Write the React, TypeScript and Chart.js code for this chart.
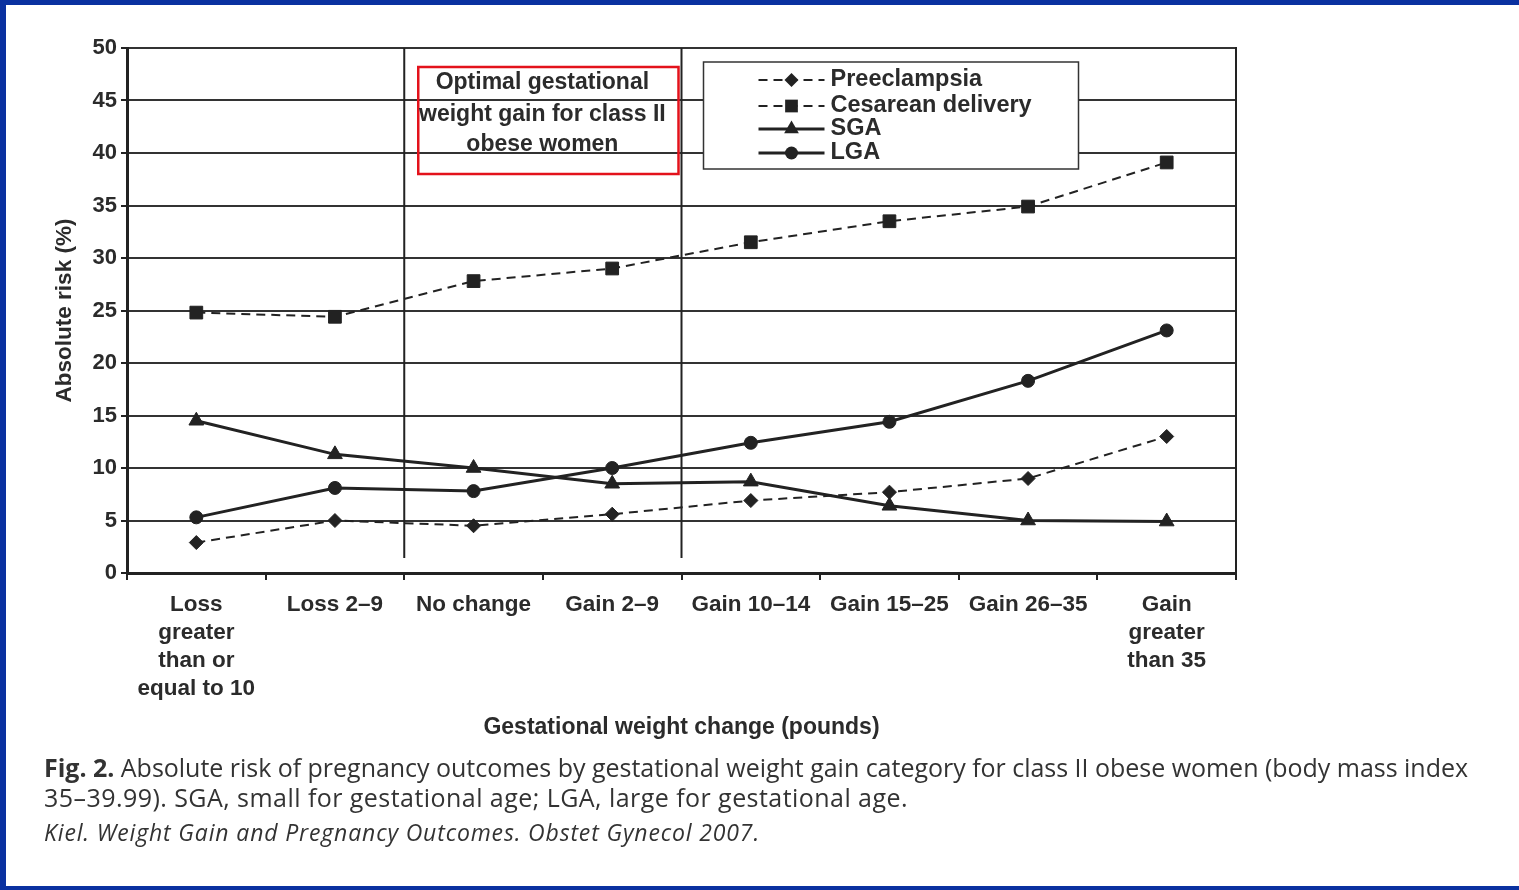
import React, { useEffect, useRef } from "react";
import { Chart, registerables } from "chart.js";

Chart.register(...registerables);

// ---------- data ----------
const categories: (string | string[])[] = [
  ["Loss", "greater", "than or", "equal to 10"],
  "Loss 2–9",
  "No change",
  "Gain 2–9",
  "Gain 10–14",
  "Gain 15–25",
  "Gain 26–35",
  ["Gain", "greater", "than 35"],
];
const seriesNames = ["Preeclampsia", "Cesarean delivery", "SGA", "LGA"];
const preeclampsia = [2.9, 5.0, 4.5, 5.6, 6.9, 7.7, 9.0, 13.0];
const cesarean = [24.8, 24.4, 27.8, 29.0, 31.5, 33.5, 34.9, 39.1];
const sga = [14.5, 11.3, 10.0, 8.5, 8.7, 6.4, 5.0, 4.9];
const lga = [5.3, 8.1, 7.8, 10.0, 12.4, 14.4, 18.3, 23.1];
const yMin = 0;
const yMax = 50;
const yStep = 5;
const optimalFirst = 2; // "No change"
const optimalLast = 3; // "Gain 2–9"
const annotationText = ["Optimal gestational", "weight gain for class II", "obese women"];
const yTitle = "Absolute risk (%)";
const xTitle = "Gestational weight change (pounds)";
const captionLine1Bold = "Fig. 2.";
const captionLine1 = " Absolute risk of pregnancy outcomes by gestational weight gain category for class II obese women (body mass index";
const captionLine2 = "35–39.99). SGA, small for gestational age; LGA, large for gestational age.";
const captionLine3 = "Kiel. Weight Gain and Pregnancy Outcomes. Obstet Gynecol 2007.";

const INK = "#222";
const TEXT = "#2b2b2b";
const FONT = '"Liberation Sans", Arial, sans-serif';

function drawMarker(ctx: CanvasRenderingContext2D, style: string, x: number, y: number, r: number) {
  ctx.beginPath();
  if (style === "circle") {
    ctx.arc(x, y, r, 0, Math.PI * 2);
  } else if (style === "rect") {
    const s = r * Math.SQRT1_2;
    ctx.rect(x - s, y - s, 2 * s, 2 * s);
  } else if (style === "rectRot") {
    ctx.moveTo(x, y - r);
    ctx.lineTo(x + r, y);
    ctx.lineTo(x, y + r);
    ctx.lineTo(x - r, y);
    ctx.closePath();
  } else if (style === "triangle") {
    ctx.moveTo(x, y - r);
    ctx.lineTo(x + r * 0.866, y + r * 0.5);
    ctx.lineTo(x - r * 0.866, y + r * 0.5);
    ctx.closePath();
  }
  ctx.fill();
}

const overlayPlugin = {
  id: "overlay",
  beforeDatasetsDraw(chart: any) {
    const { ctx, chartArea, scales } = chart;
    const x = scales.x;
    const b1 = (x.getPixelForValue(optimalFirst - 1) + x.getPixelForValue(optimalFirst)) / 2;
    const b2 = (x.getPixelForValue(optimalLast) + x.getPixelForValue(optimalLast + 1)) / 2;
    ctx.save();
    ctx.strokeStyle = INK;
    ctx.lineWidth = 2;
    ctx.beginPath();
    ctx.moveTo(b1, chartArea.top);
    ctx.lineTo(b1, chartArea.bottom - 15);
    ctx.moveTo(b2, chartArea.top);
    ctx.lineTo(b2, chartArea.bottom - 15);
    ctx.stroke();
    // right frame
    ctx.beginPath();
    ctx.moveTo(chartArea.right, chartArea.top - 1);
    ctx.lineTo(chartArea.right, chartArea.bottom + 6);
    ctx.stroke();
    ctx.restore();
  },
  afterDatasetsDraw(chart: any) {
    const { ctx, chartArea, scales } = chart;
    const x = scales.x;
    const b1 = (x.getPixelForValue(optimalFirst - 1) + x.getPixelForValue(optimalFirst)) / 2;
    const b2 = (x.getPixelForValue(optimalLast) + x.getPixelForValue(optimalLast + 1)) / 2;
    ctx.save();
    // annotation box
    const aL = b1 + 14;
    const aR = b2 - 3;
    const aT = chartArea.top + 19;
    const aB = chartArea.top + 126;
    ctx.strokeStyle = "#e3121b";
    ctx.lineWidth = 2.5;
    ctx.strokeRect(aL, aT, aR - aL, aB - aT);
    ctx.fillStyle = TEXT;
    ctx.font = `bold 23px ${FONT}`;
    ctx.textAlign = "center";
    ctx.textBaseline = "middle";
    const cx = (aL + aR) / 2 - 6;
    const rowsY = [35, 67, 97];
    annotationText.forEach((t, i) => ctx.fillText(t, cx, chartArea.top + rowsY[i]));

    // legend
    const lL = b2 + 22;
    const lR = b2 + 397;
    const lT = chartArea.top + 14;
    const lB = chartArea.top + 121;
    ctx.fillStyle = "#fff";
    ctx.fillRect(lL, lT, lR - lL, lB - lT);
    ctx.strokeStyle = "#333";
    ctx.lineWidth = 1.5;
    ctx.strokeRect(lL, lT, lR - lL, lB - lT);
    const legendRows = [18, 44, 67, 91];
    chart.data.datasets.forEach((ds: any, i: number) => {
      const y = lT + legendRows[i];
      const sx1 = lL + 55;
      const sx2 = lL + 121;
      ctx.strokeStyle = INK;
      ctx.lineWidth = ds.borderWidth;
      ctx.setLineDash(ds.borderDash || []);
      ctx.beginPath();
      ctx.moveTo(sx1, y);
      ctx.lineTo(sx2, y);
      ctx.stroke();
      ctx.setLineDash([]);
      ctx.fillStyle = INK;
      drawMarker(ctx, ds.pointStyle, (sx1 + sx2) / 2, y, ds.pointRadius);
      ctx.fillStyle = TEXT;
      ctx.font = `bold 23.5px ${FONT}`;
      ctx.textAlign = "left";
      ctx.textBaseline = "middle";
      ctx.fillText(ds.label, lL + 127, y);
    });
    ctx.restore();
  },
};

function FitText({ target, style, children }: { target: number; style: React.CSSProperties; children: React.ReactNode }) {
  const ref = useRef<HTMLDivElement>(null);
  useEffect(() => {
    const el = ref.current;
    if (!el) return;
    el.style.letterSpacing = "0px";
    const w = el.getBoundingClientRect().width;
    const n = (el.textContent || "").length;
    if (n > 1) el.style.letterSpacing = `${(target - w) / n}px`;
  }, [target]);
  return (
    <div ref={ref} style={{ ...style, position: "absolute", whiteSpace: "nowrap", display: "inline-block" }}>
      {children}
    </div>
  );
}

export default function App() {
  const canvasRef = useRef<HTMLCanvasElement>(null);

  useEffect(() => {
    const canvas = canvasRef.current;
    if (!canvas) return;
    const chart = new Chart(canvas, {
      type: "line",
      data: {
        labels: categories as any,
        datasets: [
          {
            label: seriesNames[0],
            data: preeclampsia,
            borderColor: INK,
            backgroundColor: INK,
            borderWidth: 2,
            borderDash: [9, 6],
            pointStyle: "rectRot",
            pointRadius: 7,
            pointBorderWidth: 1,
          },
          {
            label: seriesNames[1],
            data: cesarean,
            borderColor: INK,
            backgroundColor: INK,
            borderWidth: 2,
            borderDash: [9, 6],
            pointStyle: "rect",
            pointRadius: 9,
            pointBorderWidth: 1,
          },
          {
            label: seriesNames[2],
            data: sga,
            borderColor: INK,
            backgroundColor: INK,
            borderWidth: 3,
            pointStyle: "triangle",
            pointRadius: 8.5,
            pointBorderWidth: 1,
          },
          {
            label: seriesNames[3],
            data: lga,
            borderColor: INK,
            backgroundColor: INK,
            borderWidth: 3,
            pointStyle: "circle",
            pointRadius: 6.5,
            pointBorderWidth: 1,
          },
        ] as any,
      },
      options: {
        responsive: false,
        animation: false,
        events: [],
        layout: { padding: { left: 0, top: 48, right: 283, bottom: 0 } },
        plugins: { legend: { display: false }, tooltip: { enabled: false }, title: { display: false } },
        elements: { line: { tension: 0 } },
        scales: {
          x: {
            type: "category",
            offset: true,
            grid: {
              offset: true,
              drawOnChartArea: false,
              drawTicks: true,
              tickLength: 7,
              tickColor: INK,
              tickWidth: 2,
              color: INK,
              lineWidth: 2,
            },
            border: { display: true, color: INK, width: 3 },
            ticks: {
              autoSkip: false,
              maxRotation: 0,
              minRotation: 0,
              padding: 11,
              color: TEXT,
              font: { family: FONT, size: 22.5, weight: "bold", lineHeight: "28px" } as any,
            },
            title: {
              display: true,
              text: xTitle,
              color: TEXT,
              font: { family: FONT, size: 23, weight: "bold" } as any,
              padding: { top: 0, bottom: 149 },
            },
            afterFit: (s: any) => {
              s.height = 317;
            },
          },
          y: {
            min: yMin,
            max: yMax,
            ticks: {
              stepSize: yStep,
              padding: 4,
              color: TEXT,
              font: { family: FONT, size: 22, weight: "bold" } as any,
            },
            grid: {
              color: "#333",
              lineWidth: 2,
              tickLength: 6,
              tickColor: INK,
            },
            border: { display: true, color: INK, width: 3 },
            title: {
              display: true,
              text: yTitle,
              color: TEXT,
              font: { family: FONT, size: 22.5, weight: "bold" } as any,
              padding: { top: 51, bottom: 0 },
            },
            afterFit: (s: any) => {
              s.width = 127;
            },
          },
        },
      } as any,
      plugins: [overlayPlugin as any],
    });
    return () => chart.destroy();
  }, []);

  const capFont = '"Open Sans", "Noto Sans", sans-serif';
  return (
    <div
      style={{
        position: "fixed",
        left: 0,
        top: 0,
        width: 1519,
        height: 890,
        background: "#fff",
        overflow: "hidden",
      }}
    >
      <canvas ref={canvasRef} width={1519} height={890} style={{ position: "absolute", left: 0, top: 0, width: 1519, height: 890 }} />
      <FitText target={1424} style={{ left: 44, top: 752, font: `25px ${capFont}`, color: "#333", lineHeight: "30px" }}>
        <b>{captionLine1Bold}</b>
        {captionLine1}
      </FitText>
      <FitText target={864} style={{ left: 44, top: 782, font: `25px ${capFont}`, color: "#333", lineHeight: "30px" }}>
        {captionLine2}
      </FitText>
      <FitText target={716} style={{ left: 44, top: 817, font: `italic 23px ${capFont}`, color: "#333", lineHeight: "30px" }}>
        {captionLine3}
      </FitText>
      <div
        style={{
          position: "absolute",
          inset: 0,
          boxSizing: "border-box",
          borderTop: "5px solid #0a31a0",
          borderLeft: "6px solid #0a31a0",
          borderBottom: "4px solid #0a31a0",
          pointerEvents: "none",
        }}
      />
    </div>
  );
}
